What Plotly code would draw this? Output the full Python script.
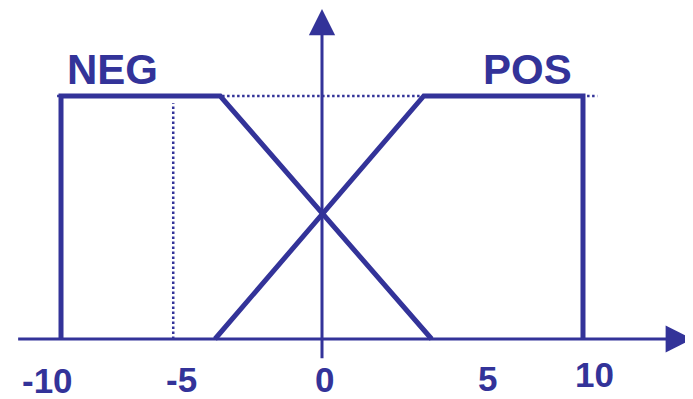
import plotly.graph_objects as go

# ---- data ----
neg_x = [-10, -10, -3.9, 4.2]
neg_y = [0.0, 1.0, 1.0, 0.0]
pos_x = [-4.1, 3.9, 10, 10]
pos_y = [0.0, 1.0, 1.0, 0.0]
guide_h_x = [-10.15, 10.55]
guide_h_y = [1.0, 1.0]
guide_v_x = [-5.7, -5.7]
guide_v_y = [0.0, 0.97]
tick_labels = ["-10", "-5", "0", "5", "10"]
tick_pos = [-10.5, -5.4, 0.1, 6.35, 10.45]
tick_lift = [-0.172, -0.168, -0.167, -0.163, -0.148]
set_names = ["NEG", "POS"]
set_name_x = [-8.03, 7.87]

COLOR = "#333399"

fig = go.Figure()

# dotted guides
fig.add_trace(go.Scatter(x=guide_h_x, y=guide_h_y, mode="lines",
                         line=dict(color=COLOR, width=2.5, dash="2.5px,2.5px"),
                         hoverinfo="skip", showlegend=False))
fig.add_trace(go.Scatter(x=guide_v_x, y=guide_v_y, mode="lines",
                         line=dict(color=COLOR, width=2.5, dash="2.5px,2.5px"),
                         hoverinfo="skip", showlegend=False))

# membership functions
fig.add_trace(go.Scatter(x=neg_x, y=neg_y, mode="lines", name="NEG",
                         line=dict(color=COLOR, width=5), showlegend=False))
fig.add_trace(go.Scatter(x=pos_x, y=pos_y, mode="lines", name="POS",
                         line=dict(color=COLOR, width=5), showlegend=False))

# axes with arrows
fig.add_annotation(x=14.2, y=0, ax=-11.7, ay=0, xref="x", yref="y",
                   axref="x", ayref="y", text="", showarrow=True,
                   arrowhead=2, arrowsize=1.8, arrowwidth=3, arrowcolor=COLOR,
                   standoff=0)
fig.add_annotation(x=0, y=1.358, ax=0, ay=-0.085, xref="x", yref="y",
                   axref="x", ayref="y", text="", showarrow=True,
                   arrowhead=2, arrowsize=1.75, arrowwidth=3, arrowcolor=COLOR,
                   standoff=0)

# tick labels
for lab, xp, yp in zip(tick_labels, tick_pos, tick_lift):
    fig.add_annotation(x=xp, y=yp, xref="x", yref="y", text=lab,
                       showarrow=False, xanchor="center", yanchor="middle",
                       borderpad=0,
                       font=dict(family="Liberation Sans, Arial", size=35,
                                 color=COLOR, weight="bold"))

# set names
for nm, xp in zip(set_names, set_name_x):
    fig.add_annotation(x=xp, y=1.11, xref="x", yref="y", text=nm,
                       showarrow=False, xanchor="center", yanchor="middle",
                       font=dict(family="Liberation Sans, Arial", size=42,
                                 color=COLOR, weight="bold"))

# figure is placed 8px in from the page corner by the default body margin
fig.update_layout(
    width=685, height=391,
    margin=dict(l=0, r=0, t=0, b=0),
    paper_bgcolor="white", plot_bgcolor="white",
    xaxis=dict(range=[-12.031, 14.215], visible=False, fixedrange=True),
    yaxis=dict(range=[-0.2469, 1.3621], visible=False, fixedrange=True),
)

fig.write_html("out.html")
